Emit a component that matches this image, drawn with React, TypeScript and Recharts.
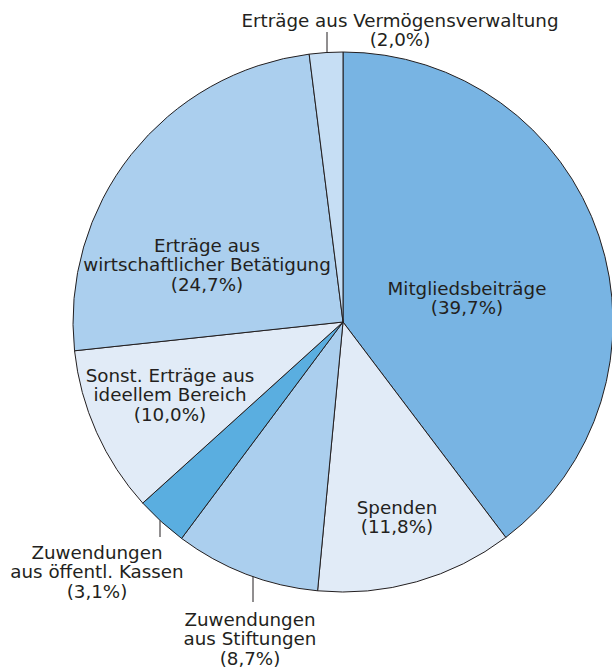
import React from 'react';
import { PieChart, Pie, Cell } from 'recharts';

const categories = [
  'Mitgliedsbeiträge',
  'Spenden',
  'Zuwendungen\naus Stiftungen',
  'Zuwendungen\naus öffentl. Kassen',
  'Sonst. Erträge aus\nideellem Bereich',
  'Erträge aus\nwirtschaftlicher Betätigung',
  'Erträge aus Vermögensverwaltung',
];
const shares = [39.7, 11.8, 8.7, 3.1, 10.0, 24.7, 2.0];

const colors = ['#78b4e3', '#e1ebf7', '#abcfee', '#5aaee0', '#e1ebf7', '#abcfee', '#c6def4'];

// label placement relative to pie centre (text centre x, first line centre y)
const labelLayout: { dx: number; dy: number; leader?: { x: number; to: number } }[] = [
  { dx: 124, dy: -34 },
  { dx: 54, dy: 185 },
  { dx: -93, dy: 297, leader: { x: -90, to: 280 } },
  { dx: -246, dy: 230, leader: { x: -183, to: 215 } },
  { dx: -173, dy: 53 },
  { dx: -136, dy: -77 },
  { dx: 57, dy: -302, leader: { x: -16, to: -290 } },
];

const data = categories.map((name, i) => ({ name, value: shares[i] }));

const TEXT = '#231f20';
const LINE_H = 19.5;

const renderLabel = (props: any) => {
  const { cx, cy, index, outerRadius, value, name } = props;
  const lay = labelLayout[index];
  const lines = String(name).split('\n');
  lines.push(`(${Number(value).toFixed(1).replace('.', ',')}%)`);
  const x = cx + lay.dx;
  let leader = null;
  if (lay.leader) {
    const lx = lay.leader.x;
    const edge = Math.sqrt(Math.max(0, outerRadius * outerRadius - lx * lx));
    const sy = lay.leader.to > 0 ? cy + edge : cy - edge;
    leader = (
      <line x1={cx + lx} x2={cx + lx} y1={sy} y2={cy + lay.leader.to} stroke={TEXT} strokeWidth={1} />
    );
  }
  return (
    <g key={`lbl-${index}`}>
      {leader}
      {lines.map((t, k) => (
        <text
          key={k}
          x={x}
          y={cy + lay.dy + k * LINE_H}
          textAnchor="middle"
          dominantBaseline="central"
          fill={TEXT}
          fontFamily="DejaVu Sans"
          fontSize={18.3}
        >
          {t}
        </text>
      ))}
    </g>
  );
};

export default function App() {
  return (
    <div style={{ position: 'absolute', left: 0, top: 0, background: '#fff' }}>
      <PieChart width={612} height={668} margin={{ top: 0, right: 0, bottom: 0, left: 0 }}>
        <Pie
          data={data}
          dataKey="value"
          nameKey="name"
          cx={343}
          cy={322}
          outerRadius={270}
          startAngle={90}
          endAngle={-270}
          stroke={TEXT}
          strokeWidth={1}
          label={renderLabel}
          labelLine={false}
          isAnimationActive={false}
        >
          {data.map((d, i) => (
            <Cell key={i} fill={colors[i]} />
          ))}
        </Pie>
      </PieChart>
    </div>
  );
}
